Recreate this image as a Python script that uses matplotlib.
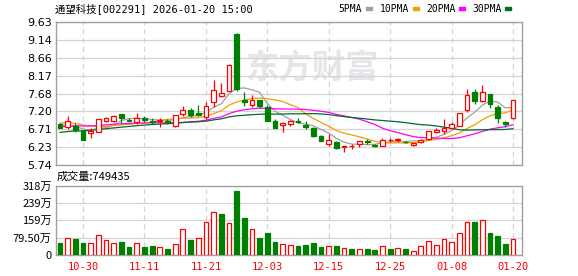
import matplotlib as mpl
mpl.use('Agg')
import matplotlib.pyplot as plt
import pandas as pd

# 60 trading days shown in the chart
dates = ['10-27', '10-28', '10-29', '10-30', '10-31', '11-03', '11-04', '11-05', '11-06', '11-07',
         '11-10', '11-11', '11-12', '11-13', '11-14', '11-17', '11-18', '11-19', '11-20', '11-21',
         '11-24', '11-25', '11-26', '11-27', '11-28', '12-01', '12-02', '12-03', '12-04', '12-05',
         '12-08', '12-09', '12-10', '12-11', '12-12', '12-15', '12-16', '12-17', '12-18', '12-19',
         '12-22', '12-23', '12-24', '12-25', '12-26', '12-29', '12-30', '12-31', '01-05', '01-06',
         '01-07', '01-08', '01-09', '01-12', '01-13', '01-14', '01-15', '01-16', '01-19', '01-20']
opens = [6.86, 6.78, 6.81, 6.66, 6.62, 6.65, 6.94, 6.94, 7.13, 6.97,
         6.92, 7.01, 6.94, 6.95, 6.94, 6.79, 7.12, 7.24, 7.15, 7.05,
         7.45, 7.61, 7.75, 9.30, 7.51, 7.36, 7.50, 7.31, 6.93, 6.84,
         6.86, 6.93, 6.84, 6.75, 6.52, 6.32, 6.37, 6.22, 6.25, 6.30,
         6.39, 6.29, 6.27, 6.41, 6.43, 6.37, 6.29, 6.37, 6.45, 6.65,
         6.66, 6.74, 6.81, 7.24, 7.72, 7.47, 7.66, 7.31, 6.92, 7.01]
highs = [6.87, 7.07, 6.88, 6.68, 6.74, 6.98, 7.05, 7.10, 7.14, 7.02,
         7.15, 7.06, 7.01, 7.01, 6.99, 7.10, 7.35, 7.28, 7.37, 7.45,
         8.05, 7.98, 8.48, 9.34, 7.73, 7.65, 7.50, 7.38, 6.98, 6.90,
         6.96, 7.01, 6.93, 6.77, 6.56, 6.57, 6.38, 6.26, 6.31, 6.39,
         6.44, 6.30, 6.47, 6.47, 6.47, 6.38, 6.34, 6.45, 6.66, 6.75,
         6.99, 6.92, 7.15, 7.82, 7.82, 7.91, 7.66, 7.38, 6.95, 7.50]
lows = [6.74, 6.72, 6.64, 6.42, 6.47, 6.64, 6.90, 6.90, 6.89, 6.90,
        6.86, 6.90, 6.86, 6.78, 6.86, 6.78, 7.07, 7.05, 7.07, 7.00,
        7.33, 7.60, 7.74, 7.75, 7.35, 7.31, 7.29, 6.94, 6.75, 6.65,
        6.81, 6.88, 6.73, 6.51, 6.39, 6.25, 6.17, 6.10, 6.17, 6.23,
        6.31, 6.24, 6.25, 6.37, 6.36, 6.35, 6.27, 6.35, 6.42, 6.61,
        6.58, 6.72, 6.80, 7.17, 7.40, 7.46, 7.30, 6.89, 6.77, 7.00]
closes = [6.75, 6.94, 6.69, 6.43, 6.66, 6.98, 7.01, 7.07, 7.02, 6.94,
          7.03, 6.96, 6.92, 6.97, 6.90, 7.10, 7.23, 7.10, 7.11, 7.34,
          7.77, 7.70, 8.47, 7.80, 7.45, 7.51, 7.35, 6.95, 6.76, 6.89,
          6.93, 6.91, 6.78, 6.52, 6.40, 6.43, 6.19, 6.26, 6.26, 6.39,
          6.36, 6.25, 6.43, 6.42, 6.44, 6.36, 6.33, 6.42, 6.66, 6.70,
          6.75, 6.86, 7.15, 7.64, 7.47, 7.72, 7.41, 7.02, 6.86, 7.50]
# volume in 万 (10k shares)
volumes = [54.5, 75.8, 72.7, 54.5, 53.0, 89.4, 66.7, 53.0, 59.0, 36.4,
           53.0, 36.4, 40.9, 34.8, 27.3, 48.5, 121, 68.2, 75.8, 153,
           198, 186, 148, 293, 168, 117, 77.3, 100, 59.0, 48.5,
           44.0, 39.4, 44.0, 54.5, 36.4, 39.4, 40.9, 30.3, 27.3, 25.8,
           27.3, 22.7, 39.4, 27.3, 30.3, 27.3, 19.7, 39.4, 62.0, 44.0,
           71.2, 59.0, 100, 153, 150, 162, 100, 86.4, 50.0, 74.9]
last_volume = 749435
# volume bar colour: 1 = up (red), 0 = down (green)
vol_up = [0, 1, 0, 0, 1, 1, 1, 1, 0, 0,
          1, 0, 0, 1, 0, 1, 1, 0, 1, 1,
          1, 0, 1, 0, 0, 1, 0, 0, 0, 1,
          1, 0, 0, 0, 0, 1, 0, 1, 0, 1,
          0, 0, 1, 0, 1, 0, 1, 1, 1, 1,
          1, 1, 1, 1, 0, 1, 0, 0, 0, 1]
# closes before the visible window (estimated, only feed the moving averages)
pre_closes = [6.22, 6.28, 6.25, 6.31, 6.35, 6.30, 6.38, 6.42, 6.36, 6.40,
              6.45, 6.52, 6.60, 6.58, 6.70, 6.75, 6.68, 6.80, 6.85, 6.78,
              6.82, 6.90, 6.88, 7.00, 7.05, 6.98, 6.85, 6.80, 6.78]

price_ticks = [5.74, 6.2263, 6.7125, 7.1988, 7.685, 8.1713, 8.6575, 9.1438, 9.63]
price_labels = ['5.74', '6.23', '6.71', '7.20', '7.68', '8.17', '8.66', '9.14', '9.63']
vol_ticks = [0, 79.5, 159, 238.5, 318]
vol_labels = ['0', '79.50万', '159万', '239万', '318万']
tick_idx = [3, 11, 19, 27, 35, 43, 51, 59]
ma_periods = [5, 10, 20, 30]
ma_colors = ['#a0a0a0', '#f0a000', '#ff00ff', '#006b2b']

RED = '#ff0000'; GRN = '#008000'; GRID = '#d4d4d4'; FRAME = '#a0a0a0'
CJK = ['Noto Sans CJK SC', 'DejaVu Sans']
MONO = ['DejaVu Sans Mono', 'Noto Sans CJK SC']

W, H = 578, 276
fig = plt.figure(figsize=(W / 100, H / 100), dpi=100)
axp = fig.add_axes([56 / W, 1 - 165 / H, 466 / W, 143 / H])
axv = fig.add_axes([56 / W, 1 - 255 / H, 466 / W, 69.5 / H])

n = len(closes)
xs = list(range(n))
bw = 0.62

# moving averages
ser = pd.Series(pre_closes + closes)
for p, c in zip(ma_periods, ma_colors):
    ma = ser.rolling(p).mean().iloc[len(pre_closes):].values
    axp.plot(xs, ma, color=c, lw=0.9, zorder=3)

# candles
for i in xs:
    o, h, l, c = opens[i], highs[i], lows[i], closes[i]
    up = c >= o
    col = RED if up else GRN
    axp.vlines(i, l, h, color=col, lw=0.9, zorder=4)
    axp.bar(i, max(abs(c - o), 0.004), bottom=min(o, c), width=bw,
            facecolor='white' if up else GRN, edgecolor=col, lw=0.9, zorder=5)

# volume bars
for i in xs:
    col = RED if vol_up[i] else GRN
    axv.bar(i, volumes[i], width=bw, facecolor='white' if vol_up[i] else GRN,
            edgecolor=col, lw=0.9, zorder=3)

# watermark
axp.text(0.55, 0.67, '东方财富', transform=axp.transAxes, ha='center', va='center',
         fontsize=24, fontweight='bold', color='#e6e6ea', family=CJK, zorder=0.5)

for ax in (axp, axv):
    ax.set_xlim(-0.52, n - 1 + 1.17)
    ax.set_xticks(tick_idx)
    ax.grid(axis='x', color=GRID, lw=0.9, ls=(0, (4, 3)), zorder=1)
    ax.grid(axis='y', color=GRID, lw=0.9, ls='-', zorder=1)
    ax.set_axisbelow(True)
    ax.tick_params(length=0, pad=3)
    for s in ax.spines.values():
        s.set_color(FRAME); s.set_linewidth(1.0)

axp.set_ylim(5.74, 9.63)
axp.set_yticks(price_ticks)
axp.set_yticklabels(price_labels, fontsize=8, family='DejaVu Sans')
axp.set_xticklabels([])

axv.set_ylim(0, 318)
axv.set_yticks(vol_ticks)
axv.set_yticklabels(vol_labels, fontsize=8, family=CJK)
axv.set_xticklabels([dates[i] for i in tick_idx], fontsize=7.5, family=MONO, color=RED)
axv.tick_params(axis='x', pad=5)

# header texts
fig.text(55 / W, 1 - 8.5 / H, '通望科技[002291] 2026-01-20 15:00', fontsize=7.5,
         family=MONO, va='center', ha='left')
fig.text(57 / W, 1 - 177 / H, '成交量:%d' % last_volume, fontsize=8,
         family=CJK, va='center', ha='left')

# legend
leg_x = [338, 380, 426, 472]
for p, c, x in zip(ma_periods, ma_colors, leg_x):
    t = fig.text(x / W, 1 - 8.5 / H, '%dPMA' % p, fontsize=7, family=MONO,
                 va='center', ha='left')
    fig.canvas.draw()
    bb = t.get_window_extent()
    fig.patches.append(mpl.patches.Rectangle(((bb.x1 + 4) / W, 1 - 9.8 / H), 6 / W, 2.6 / H,
                                             transform=fig.transFigure, color=c))

fig.savefig('out.png', dpi=100)
